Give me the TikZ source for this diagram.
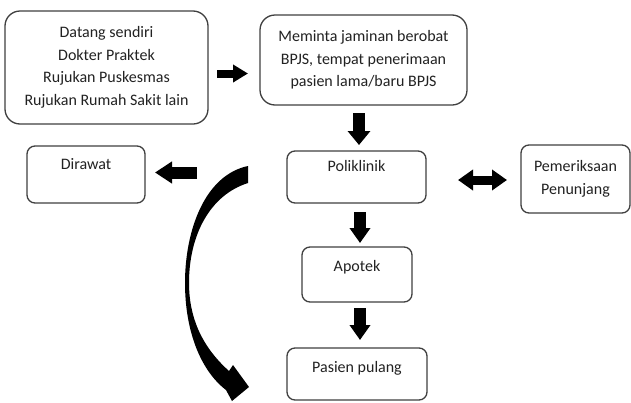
\documentclass[tikz,border=0pt]{standalone}
\usepackage{fontspec}
\setmainfont{Carlito}
\usetikzlibrary{arrows.meta}
\definecolor{edge}{HTML}{404040}
\definecolor{ink}{HTML}{222222}
\tikzset{
  box/.style={draw=edge, line width=1.3pt, rounded corners=#1, inner sep=0pt, align=center,
    font=\fontsize{16}{22.5}\selectfont, text=ink},
  box/.default=8pt,
  txt/.style={font=\fontsize{16}{22.5}\selectfont, text=ink, inner sep=0pt, anchor=center, text height=11pt, text depth=3.5pt},
  blk/.style n args={3}{draw=black, line width=#1pt, -{Triangle[length=#2pt, width=#3pt]}},
  dblk/.style n args={3}{draw=black, line width=#1pt, {Triangle[length=#2pt, width=#3pt]}-{Triangle[length=#2pt, width=#3pt]}},
}
\begin{document}
\begin{tikzpicture}[x=1pt,y=-1pt]
\useasboundingbox (0,0) rectangle (631,402);
\fill[white] (0,0) rectangle (631,402);

\node[box=15pt, minimum width=203pt, minimum height=113pt] (b1) at (106.5,67.5)
  {Datang sendiri\\Dokter Praktek\\Rujukan Puskesmas\\Rujukan Rumah Sakit lain};
\node[box=15pt, minimum width=207pt, minimum height=90pt] (b2) at (363.5,60)
  {Meminta jaminan berobat\\BPJS, tempat penerimaan\\pasien lama/baru BPJS};
\node[box, minimum width=139pt, minimum height=52pt] (poli) at (356.5,177) {};
\node[txt] (polit) at (356.5,168) {Poliklinik};
\node[box, minimum width=118pt, minimum height=57pt] (dir) at (86,174.5) {};
\node[txt] (dirt) at (86,166) {Dirawat};
\node[box, minimum width=109pt, minimum height=68pt] (pem) at (575.5,179) {Pemeriksaan\\Penunjang};
\node[box, minimum width=110pt, minimum height=55pt] (apo) at (357,274.5) {};
\node[txt] (apot) at (357,268) {Apotek};
\node[box, minimum width=140pt, minimum height=52pt] (pas) at (357,374) {};
\node[txt] (past) at (357,369) {Pasien pulang};

% block arrows
\coordinate (a1s) at (217,73.5); \coordinate (a1e) at (248,73.5);
\draw[blk={8}{15}{17}] (a1s) -- (a1e);
\coordinate (a2s) at (359,113); \coordinate (a2e) at (359,145);
\draw[blk={12}{14}{22}] (a2s) -- (a2e);
\coordinate (a3s) at (197,172.5); \coordinate (a3e) at (155,172.5);
\draw[blk={12}{17}{21}] (a3s) -- (a3e);
\coordinate (a4s) at (458,180); \coordinate (a4e) at (507,180);
\draw[dblk={9}{15}{20}] (a4s) -- (a4e);
\coordinate (a5s) at (360,212); \coordinate (a5e) at (360,243);
\draw[blk={12}{15}{20}] (a5s) -- (a5e);
\coordinate (a6s) at (360,308); \coordinate (a6e) at (360,340);
\draw[blk={12}{15}{20}] (a6s) -- (a6e);

% curved arrow
\fill[black] (248,166) .. controls (205,175) and (185,230) .. (185,283)
  .. controls (185,330) and (200,370) .. (226,390)
  -- (232,401) -- (249,387) -- (233,365) -- (229,371)
  .. controls (200,345) and (189,315) .. (189,283)
  .. controls (189,235) and (210,195) .. (248,183) -- cycle;
\end{tikzpicture}
\end{document}
